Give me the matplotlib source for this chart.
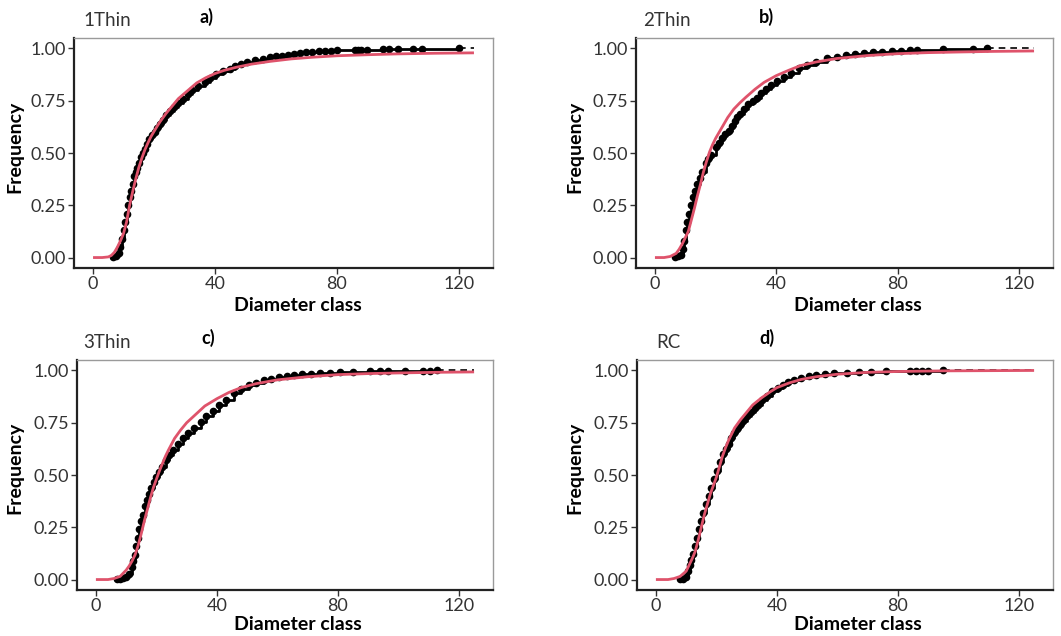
import matplotlib
matplotlib.use("Agg")
import matplotlib.pyplot as plt

plt.rcParams['font.family'] = ['Lato', 'DejaVu Sans']

W, H = 1061, 636

# ---------------- data ----------------
groups = ["1Thin", "2Thin", "3Thin", "RC"]
panel_tags = ["a)", "b)", "c)", "d)"]

# empirical cumulative frequency (black points)
ecdf_a_x = [6.5, 7.5, 8.5, 9.0, 9.5, 10.0, 10.5, 11.0, 11.5, 12.0, 12.5, 13.0, 13.5, 14.0, 14.5, 15.1, 15.7, 16.3,
            17.0, 17.7, 18.5, 19.3, 20.2, 21, 22, 23, 24.1, 25.3, 26.5, 28, 29.5, 31, 32.5, 34.5, 36.6, 38.5, 40.5,
            42.5, 44.8, 46.5, 48.5, 50.5, 53, 55.7, 58, 60, 62, 64, 66, 68, 70, 72, 74, 76, 78, 80, 86, 87, 88, 90,
            95, 97, 100, 105, 108, 120]
ecdf_a_y = [0.003, 0.008, 0.02, 0.05, 0.09, 0.13, 0.17, 0.21, 0.25, 0.29, 0.32, 0.35, 0.39, 0.41, 0.43, 0.45, 0.48,
            0.50, 0.52, 0.545, 0.565, 0.585, 0.60, 0.62, 0.64, 0.66, 0.683, 0.70, 0.72, 0.74, 0.76, 0.78, 0.80, 0.82,
            0.84, 0.86, 0.88, 0.89, 0.90, 0.915, 0.925, 0.935, 0.943, 0.95, 0.957, 0.962, 0.966, 0.97, 0.974, 0.978,
            0.981, 0.984, 0.986, 0.988, 0.99, 0.991, 0.993, 0.9935, 0.994, 0.995, 0.996, 0.997, 0.998, 0.998, 0.999,
            1.0]

ecdf_b_x = [6.5, 7.5, 8.5, 9.2, 9.6, 10.1, 10.6, 11.3, 12, 12.6, 13.3, 14, 14.8, 15.6, 16.7, 17.6, 18.6, 20, 21, 22,
            23.2, 24.3, 25.3, 26.3, 27.2, 28.2, 29.5, 30.8, 32.2, 33.7, 35, 36.5, 38.3, 40.2, 42.5, 45, 47.5, 50.1,
            53, 56.7, 60, 63, 66, 69, 72, 75, 78, 81, 84, 86.5, 95, 105, 109.5]
ecdf_b_y = [0.003, 0.006, 0.012, 0.04, 0.08, 0.13, 0.17, 0.21, 0.25, 0.29, 0.32, 0.35, 0.38, 0.41, 0.45, 0.47, 0.49,
            0.527, 0.55, 0.57, 0.59, 0.606, 0.63, 0.655, 0.67, 0.685, 0.71, 0.735, 0.75, 0.764, 0.785, 0.805, 0.825,
            0.843, 0.865, 0.885, 0.905, 0.92, 0.935, 0.953, 0.96, 0.967, 0.972, 0.977, 0.981, 0.985, 0.988, 0.99,
            0.992, 0.994, 0.996, 0.998, 1.0]

ecdf_c_x = [7, 8, 9, 10, 11, 11.8, 12.3, 12.8, 13.3, 13.8, 14.4, 15, 15.6, 16.3, 17, 17.6, 18.3, 19.1, 20, 21, 22,
            23.1, 24.3, 25.6, 27, 28.7, 30.5, 32.5, 34.7, 36.5, 38.7, 40.8, 43, 45.5, 47.9, 50.5, 53, 55.5, 58, 60.5,
            63, 65.5, 68, 71, 74, 77.5, 80.8, 85, 90.6, 94, 96.6, 102, 108, 110.5, 112.7]
ecdf_c_y = [0.002, 0.004, 0.006, 0.01, 0.025, 0.06, 0.09, 0.119, 0.16, 0.2, 0.24, 0.278, 0.31, 0.35, 0.38, 0.41,
            0.437, 0.465, 0.49, 0.516, 0.54, 0.57, 0.595, 0.62, 0.65, 0.675, 0.70, 0.725, 0.754, 0.78, 0.805, 0.833,
            0.86, 0.89, 0.913, 0.93, 0.942, 0.952, 0.96, 0.967, 0.973, 0.978, 0.982, 0.985, 0.988, 0.99, 0.992,
            0.993, 0.995, 0.996, 0.997, 0.998, 0.999, 0.9995, 1.0]

ecdf_d_x = [8, 9, 10, 10.6, 11.2, 11.7, 12.3, 12.9, 13.5, 14.2, 15, 15.7, 16.5, 17.4, 18.3, 19.2, 20.2, 21.2, 22.2,
            23.1, 24, 24.9, 25.8, 26.8, 27.7, 28.7, 30, 31.5, 32.6, 33.7, 35.2, 36.8, 38.5, 40.2, 42, 43.8, 45.7, 48,
            50.5, 53, 56, 59, 63, 67, 71, 76, 84, 86, 88, 90, 95]
ecdf_d_y = [0.002, 0.005, 0.01, 0.04, 0.07, 0.095, 0.122, 0.16, 0.2, 0.24, 0.281, 0.32, 0.36, 0.40, 0.44, 0.48, 0.52,
            0.56, 0.599, 0.625, 0.65, 0.678, 0.70, 0.72, 0.74, 0.757, 0.78, 0.80, 0.82, 0.837, 0.86, 0.88, 0.9, 0.916,
            0.93, 0.944, 0.956, 0.966, 0.974, 0.98, 0.985, 0.988, 0.99, 0.992, 0.994, 0.995, 0.996, 0.997, 0.998,
            0.999, 1.0]

# fitted cumulative curve (red line)
fit_a_x = [0, 3, 5, 6, 7, 8, 9, 10, 11, 12, 13, 14, 15, 16, 17, 18, 19, 20, 21, 22, 24, 26, 28, 30, 32, 34, 37, 40,
           43, 47, 52, 58, 65, 72, 80, 90, 100, 112, 125]
fit_a_y = [0, 0, 0.003, 0.01, 0.025, 0.05, 0.08, 0.115, 0.17, 0.25, 0.315, 0.375, 0.43, 0.475, 0.515, 0.548, 0.578,
           0.603, 0.627, 0.65, 0.69, 0.725, 0.76, 0.785, 0.81, 0.835, 0.86, 0.88, 0.895, 0.91, 0.925, 0.938, 0.95,
           0.958, 0.965, 0.97, 0.974, 0.977, 0.979]

fit_b_x = [0, 3, 5, 7, 8, 9, 10, 11, 12, 13, 14, 15, 16, 17, 18, 19, 20, 21, 22, 24, 26, 28, 30, 33, 36, 40, 44, 48,
           53, 60, 70, 80, 90, 100, 112, 125]
fit_b_y = [0, 0, 0.005, 0.02, 0.04, 0.065, 0.095, 0.125, 0.18, 0.235, 0.295, 0.35, 0.41, 0.46, 0.505, 0.54, 0.57,
           0.595, 0.62, 0.67, 0.71, 0.74, 0.767, 0.805, 0.838, 0.87, 0.895, 0.918, 0.935, 0.952, 0.966, 0.975, 0.98,
           0.983, 0.986, 0.988]

fit_c_x = [0, 4, 6, 8, 9, 10, 11, 12, 13, 14, 15, 16, 17, 18, 19, 20, 21, 22, 23, 24, 26, 28, 30, 33, 36, 40, 44, 48,
           53, 60, 70, 80, 90, 100, 112, 125]
fit_c_y = [0, 0, 0.005, 0.015, 0.03, 0.045, 0.065, 0.09, 0.12, 0.165, 0.22, 0.28, 0.335, 0.39, 0.44, 0.48, 0.52,
           0.555, 0.59, 0.62, 0.675, 0.715, 0.75, 0.79, 0.83, 0.865, 0.895, 0.918, 0.937, 0.955, 0.97, 0.98, 0.985,
           0.988, 0.991, 0.993]

fit_d_x = [0, 4, 6, 8, 10, 11, 12, 13, 14, 15, 16, 17, 18, 19, 20, 21, 22, 23, 24, 26, 28, 30, 32, 35, 38, 40, 44, 48,
           53, 60, 70, 80, 95, 110, 125]
fit_d_y = [0, 0, 0.005, 0.015, 0.04, 0.07, 0.1, 0.135, 0.19, 0.25, 0.31, 0.36, 0.41, 0.45, 0.49, 0.54, 0.59, 0.63,
           0.665, 0.725, 0.765, 0.8, 0.835, 0.87, 0.9, 0.918, 0.94, 0.957, 0.97, 0.982, 0.991, 0.995, 0.998, 0.999,
           1.0]

ecdf_x = [ecdf_a_x, ecdf_b_x, ecdf_c_x, ecdf_d_x]
ecdf_y = [ecdf_a_y, ecdf_b_y, ecdf_c_y, ecdf_d_y]
fit_x = [fit_a_x, fit_b_x, fit_c_x, fit_d_x]
fit_y = [fit_a_y, fit_b_y, fit_c_y, fit_d_y]

x_ticks = [0, 40, 80, 120]
y_ticks = [0.00, 0.25, 0.50, 0.75, 1.00]
y_ticklabels = ["0.00", "0.25", "0.50", "0.75", "1.00"]
x_max = 125

# ---------------- layout (pixels) ----------------
boxes = [(74, 38, 493, 268), (636, 38, 1053, 268), (77, 360, 493, 590), (637, 360, 1053, 590)]
group_pos = [(83, 20), (643, 20), (83, 342), (656, 342)]
tag_pos = [(200, 17), (759, 17), (201, 338), (759, 338)]
xlab_pos = [(298, 305), (858, 305), (298, 625), (858, 625)]
ylab_pos = [(15, 147), (575, 147), (15, 468), (575, 468)]

RED = "#DF536B"
TXT = "#333333"

fig = plt.figure(figsize=(W / 100, H / 100), dpi=100)

for i in range(4):
    l, t, r, b = boxes[i]
    ax = fig.add_axes([l / W, 1 - b / H, (r - l) / W, (b - t) / H])
    ax.set_xlim(-0.05 * x_max, 1.05 * x_max)
    ax.set_ylim(-0.05, 1.05)

    ex, ey = ecdf_x[i], ecdf_y[i]
    ax.step(ex, ey, where="post", color="black", lw=2.0, zorder=2)
    ax.plot(ex, ey, "o", color="black", ms=5.5, mew=0, zorder=2)
    ax.plot([ex[-1], x_max], [ey[-1], ey[-1]], color="black", lw=1.2, ls=(0, (4, 3)), zorder=2)
    ax.plot(fit_x[i], fit_y[i], color=RED, lw=2.0, zorder=3, solid_capstyle="butt")

    ax.set_xticks(x_ticks)
    ax.set_xticklabels([str(v) for v in x_ticks])
    ax.set_yticks(y_ticks)
    ax.set_yticklabels(y_ticklabels)
    ax.tick_params(axis="both", labelsize=13, labelcolor=TXT, color="#333333", length=4, width=1)
    ax.tick_params(axis="y", pad=1.5)
    ax.tick_params(axis="x", pad=2)
    for side in ["left", "bottom"]:
        ax.spines[side].set_color("#222222")
        ax.spines[side].set_linewidth(1.6)
    for side in ["top", "right"]:
        ax.spines[side].set_color("#9a9a9a")
        ax.spines[side].set_linewidth(1.0)

    gx, gy = group_pos[i]
    fig.text(gx / W, 1 - gy / H, groups[i], fontsize=13.5, color=TXT, ha="left", va="center")
    tx, ty = tag_pos[i]
    fig.text(tx / W, 1 - ty / H, panel_tags[i], fontsize=13, color="black", fontweight="bold",
             ha="left", va="center")
    xx, xy = xlab_pos[i]
    fig.text(xx / W, 1 - xy / H, "Diameter class", fontsize=14, color="black", fontweight="bold",
             ha="center", va="center")
    yx, yy = ylab_pos[i]
    fig.text(yx / W, 1 - yy / H, "Frequency", fontsize=14, color="black", fontweight="bold",
             ha="center", va="center", rotation=90)

fig.savefig("out.png", dpi=100)
